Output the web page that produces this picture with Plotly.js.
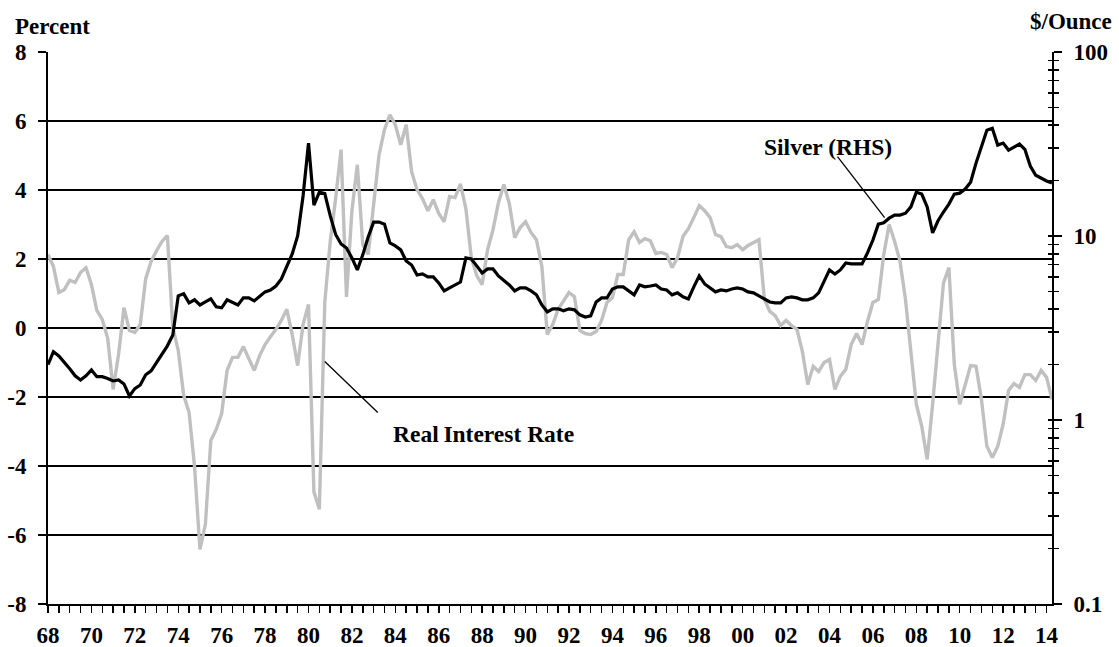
<!DOCTYPE html>
<html>
<head>
<meta charset="utf-8">
<script src="https://cdn.plot.ly/plotly-3.0.1.min.js"></script>
<style>html,body{margin:0;padding:0;background:#fff;}#chart{width:1119px;height:647px;}</style>
</head>
<body>
<div id="chart"></div>
<script>
// Quarterly data, 1968Q1 .. 2014Q2
const startYear = 1968;
const realRate = [2.13,1.78,1.03,1.11,1.38,1.32,1.61,1.75,1.26,0.51,
0.25,-0.30,-1.78,-0.77,0.59,-0.07,-0.13,0.10,1.43,1.93,
2.24,2.51,2.68,0.01,-0.65,-1.95,-2.45,-4.01,-6.42,-5.69,
-3.26,-2.94,-2.48,-1.23,-0.85,-0.85,-0.54,-0.91,-1.23,-0.80,
-0.48,-0.25,-0.04,0.22,0.54,-0.19,-1.09,0.10,0.68,-4.75,
-5.25,0.74,2.50,3.75,5.17,0.90,3.40,4.73,2.42,2.13,
3.55,5.02,5.75,6.18,5.89,5.31,5.89,4.53,4.01,3.75,
3.40,3.72,3.32,3.08,3.81,3.78,4.18,3.46,2.04,1.52,
1.26,2.27,2.85,3.63,4.16,3.61,2.62,2.91,3.08,2.77,
2.56,1.78,-0.19,0.10,0.54,0.80,1.03,0.91,-0.07,-0.16,
-0.19,-0.10,0.22,0.74,0.88,1.55,1.55,2.56,2.79,2.48,
2.59,2.53,2.16,2.19,2.13,1.75,2.04,2.65,2.88,3.20,
3.55,3.40,3.20,2.71,2.65,2.36,2.33,2.42,2.27,2.39,
2.48,2.56,0.83,0.48,0.36,0.07,0.22,0.07,-0.04,-0.68,
-1.64,-1.11,-1.26,-1.00,-0.91,-1.78,-1.40,-1.20,-0.48,-0.16,
-0.48,0.19,0.74,0.83,2.13,3.00,2.51,1.93,0.83,-0.77,
-2.21,-2.85,-3.81,-2.21,-0.33,1.30,1.75,-1.06,-2.21,-1.66,
-1.09,-1.11,-2.07,-3.43,-3.75,-3.43,-2.79,-1.81,-1.61,-1.72,
-1.35,-1.35,-1.52,-1.23,-1.43,-2.07];
const silver = [2.00,2.35,2.23,2.07,1.90,1.74,1.65,1.74,1.87,1.72,
1.72,1.68,1.63,1.65,1.57,1.35,1.48,1.55,1.76,1.85,
2.05,2.29,2.53,2.90,4.73,4.85,4.33,4.50,4.22,4.38,
4.55,4.12,4.07,4.50,4.38,4.22,4.61,4.61,4.44,4.67,
4.97,5.09,5.35,5.84,6.79,7.99,10.0,16.5,32.0,14.7,
17.3,17.0,12.9,10.2,9.05,8.61,7.60,6.54,7.90,9.88,
11.9,11.9,11.6,9.16,8.83,8.40,7.32,6.96,6.14,6.22,
5.99,5.99,5.56,5.03,5.22,5.42,5.62,7.60,7.50,6.88,
6.30,6.62,6.62,6.07,5.77,5.42,5.03,5.22,5.22,5.03,
4.79,4.22,3.87,4.02,4.02,3.92,4.02,3.97,3.73,3.63,
3.68,4.38,4.61,4.61,5.15,5.29,5.29,5.03,4.79,5.42,
5.29,5.35,5.42,5.15,5.09,4.79,4.91,4.67,4.55,5.29,
6.07,5.49,5.22,4.97,5.09,5.03,5.15,5.22,5.15,4.97,
4.91,4.73,4.55,4.38,4.33,4.33,4.61,4.67,4.61,4.50,
4.50,4.61,4.91,5.62,6.54,6.22,6.54,7.14,7.05,7.05,
7.05,8.09,9.51,11.6,11.8,12.5,13.0,13.0,13.3,14.4,
17.3,16.9,14.4,10.4,12.1,13.5,14.9,16.9,17.1,18.0,
19.6,24.9,30.8,37.6,38.5,31.2,32.0,29.3,30.4,31.6,
29.6,24.0,21.4,20.6,19.9,19.4];
const xTickYears = [1968,1970,1972,1974,1976,1978,1980,1982,1984,1986,1988,1990,1992,1994,1996,1998,2000,2002,2004,2006,2008,2010,2012,2014];
const xTickLabels = ['68','70','72','74','76','78','80','82','84','86','88','90','92','94','96','98','00','02','04','06','08','10','12','14'];
const leftTickVals = [-8,-6,-4,-2,0,2,4,6,8];
const leftTickText = ['-8','-6','-4','-2','0','2','4','6','8'];
const rightTickVals = [0.1,1,10,100];
const rightTickText = ['0.1','1','10','100'];
const rightMinorVals = [0.2,0.3,0.4,0.5,0.6,0.7,0.8,0.9,2,3,4,5,6,7,8,9,20,30,40,50,60,70,80,90];

const quarters = realRate.map((_, i) => startYear + i / 4);

const FONT = '"Liberation Serif", "Times New Roman", Times, serif';
const tickFont = {family: FONT, size: 23, color: 'black', weight: 'bold'};
const noteFont = {family: FONT, size: 23.5, color: 'black', weight: 'bold'};
const titleFont = {family: FONT, size: 23, color: 'black', weight: 'bold'};

const traces = [
  {x: quarters, y: realRate, type: 'scatter', mode: 'lines', yaxis: 'y',
   line: {color: '#c0c0c0', width: 3.4}, hoverinfo: 'skip'},
  {x: quarters, y: silver, type: 'scatter', mode: 'lines', yaxis: 'y2',
   line: {color: '#000000', width: 3.2}, hoverinfo: 'skip'},
  {x: quarters, y: silver, type: 'scatter', mode: 'lines', yaxis: 'y3',
   line: {color: 'rgba(0,0,0,0)', width: 0}, hoverinfo: 'skip'}
];

const layout = {
  width: 1119, height: 647,
  margin: {l: 48, r: 67, t: 52, b: 43},
  paper_bgcolor: 'white', plot_bgcolor: 'white',
  showlegend: false,
  font: tickFont,
  xaxis: {
    range: [1968, 2014.25], tickmode: 'array', tickvals: xTickYears, ticktext: xTickLabels,
    ticks: 'outside', ticklen: 7, tickwidth: 1.5, tickcolor: 'black',
    showline: true, linecolor: 'black', linewidth: 2, showgrid: false, zeroline: false,
    tickfont: tickFont, ticklabelstandoff: 2,
    minor: {tick0: 1968, dtick: 0.5, ticks: 'outside', ticklen: 7, tickwidth: 1.5, tickcolor: 'black', showgrid: false}
  },
  yaxis: {
    range: [-8, 8], tickmode: 'array', tickvals: leftTickVals, ticktext: leftTickText,
    ticks: 'outside', ticklen: 8, tickwidth: 1.5, tickcolor: 'black',
    showline: true, linecolor: 'black', linewidth: 2,
    showgrid: true, gridcolor: 'black', gridwidth: 1.2, zeroline: false,
    tickfont: tickFont, ticklabelstandoff: 7
  },
  yaxis2: {
    overlaying: 'y', side: 'right', type: 'log', range: [-1, 2],
    tickmode: 'array', tickvals: rightTickVals, ticktext: rightTickText,
    ticks: 'outside', ticklen: 8, tickwidth: 1.5, tickcolor: 'black',
    showline: true, linecolor: 'black', linewidth: 2, showgrid: false, zeroline: false,
    tickfont: tickFont, ticklabelstandoff: 7,
    minor: {tickmode: 'array', tickvals: rightMinorVals, ticks: 'outside', ticklen: 5, tickwidth: 1.5, tickcolor: 'black', showgrid: false}
  },
  yaxis3: {
    overlaying: 'y', side: 'right', type: 'log', range: [-1, 2],
    tickmode: 'array', tickvals: rightTickVals, showticklabels: false,
    ticks: 'inside', ticklen: 4, tickwidth: 1.5, tickcolor: 'black',
    showline: false, showgrid: false, zeroline: false,
    minor: {tickmode: 'array', tickvals: rightMinorVals, ticks: 'inside', ticklen: 4, tickwidth: 1.5, tickcolor: 'black', showgrid: false}
  },
  annotations: [
    {text: 'Percent', xref: 'paper', yref: 'paper', x: -0.035, y: 1.046, xanchor: 'left', yanchor: 'middle', showarrow: false, font: titleFont},
    {text: '$/Ounce', xref: 'paper', yref: 'paper', x: 1.062, y: 1.055, xanchor: 'right', yanchor: 'middle', showarrow: false, font: titleFont},
    {text: 'Silver (RHS)', xref: 'x', yref: 'y', x: 2003.93, y: 5.26, xanchor: 'center', yanchor: 'middle', showarrow: false, font: noteFont},
    {text: 'Real\u2009Interest Rate', xref: 'x', yref: 'y', x: 1988.08, y: -3.06, xanchor: 'center', yanchor: 'middle', showarrow: false, font: noteFont}
  ],
  shapes: [
    {type: 'line', xref: 'x', yref: 'y', x0: 2004.37, y0: 4.97, x1: 2006.54, y1: 3.2, line: {color: 'black', width: 1.3}},
    {type: 'line', xref: 'x', yref: 'y', x0: 1980.75, y0: -0.97, x1: 1983.19, y1: -2.45, line: {color: 'black', width: 1.3}}
  ]
};

Plotly.newPlot('chart', traces, layout, {staticPlot: true, displayModeBar: false});
</script>
</body>
</html>
